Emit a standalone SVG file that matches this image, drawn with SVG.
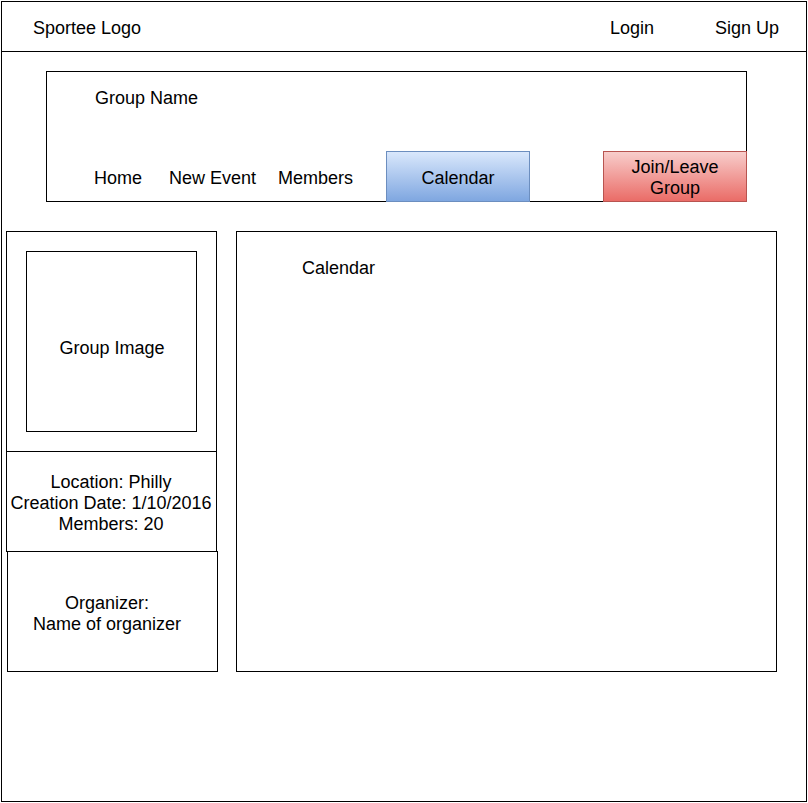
<svg xmlns="http://www.w3.org/2000/svg" width="808" height="803" viewBox="0 0 808 803">
<style>
.b{fill:#fff;stroke:#000;stroke-width:1}
.t{font-family:"Liberation Sans",Arial,sans-serif;font-size:18px;fill:#000}
.m{text-anchor:middle}
</style>
<defs>
<linearGradient id="gb" x1="0" y1="0" x2="0" y2="1"><stop offset="0" stop-color="#dae8fc"/><stop offset="1" stop-color="#7ea6e0"/></linearGradient>
<linearGradient id="gr" x1="0" y1="0" x2="0" y2="1"><stop offset="0" stop-color="#f8cecc"/><stop offset="1" stop-color="#ea6b66"/></linearGradient>
</defs>
<rect width="808" height="803" fill="#fff"/>
<g id="page"><rect class="b" x="1.5" y="1.5" width="805" height="800"/></g>
<g id="header">
<rect class="b" x="1.5" y="1.5" width="805" height="50"/>
<text class="t" x="33" y="34">Sportee Logo</text>
<text class="t m" x="632" y="34">Login</text>
<text class="t m" x="747" y="34">Sign Up</text>
</g>
<g id="group-bar">
<rect class="b" x="46.5" y="71.5" width="700" height="130"/>
<text class="t" x="95" y="104">Group Name</text>
<text class="t" x="94" y="184">Home</text>
<text class="t" x="169" y="184">New Event</text>
<text class="t" x="278" y="184">Members</text>
</g>
<g id="calendar-btn">
<rect x="386.5" y="151.5" width="143" height="50" fill="url(#gb)" stroke="#6c8ebf"/>
<text class="t m" x="458" y="184">Calendar</text>
</g>
<g id="join-btn">
<rect x="603.5" y="151.5" width="143" height="50" fill="url(#gr)" stroke="#b85450"/>
<text class="t m" x="675" y="173">Join/Leave</text>
<text class="t m" x="675" y="194">Group</text>
</g>
<g id="image-panel">
<rect class="b" x="6.5" y="231.5" width="210" height="220"/>
<rect class="b" x="26.5" y="251.5" width="170" height="180"/>
<text class="t m" x="112" y="354">Group Image</text>
</g>
<g id="info-panel">
<rect class="b" x="6.5" y="451.5" width="210" height="100"/>
<text class="t m" x="111" y="488">Location: Philly</text>
<text class="t m" x="111" y="509">Creation Date: 1/10/2016</text>
<text class="t m" x="111" y="530">Members: 20</text>
</g>
<g id="organizer-panel">
<rect class="b" x="7.5" y="551.5" width="210" height="120"/>
<text class="t m" x="107" y="609">Organizer:</text>
<text class="t m" x="107" y="630">Name of organizer</text>
</g>
<g id="calendar-panel">
<rect class="b" x="236.5" y="231.5" width="540" height="440"/>
<text class="t" x="302" y="274">Calendar</text>
</g>
<g id="connectors"/>
</svg>
